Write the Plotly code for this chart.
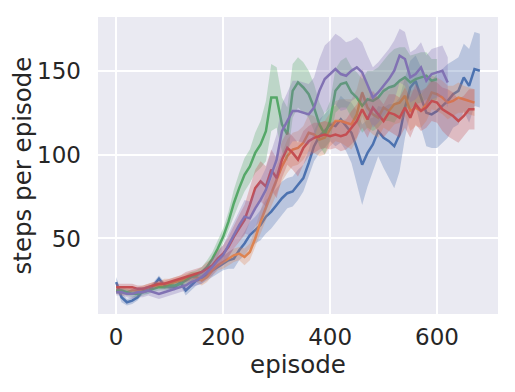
import plotly.graph_objects as go

step = 10

blue_mean = [24, 15, 12, 13, 15, 19, 19, 22, 26, 22, 21, 21, 24, 19, 22, 25, 26, 28, 31, 33,
             35, 37, 38, 43, 47, 52, 55, 58, 63, 66, 70, 74, 77, 78, 82, 86, 95, 105, 111, 114,
             118, 117, 121, 117, 113, 104, 94, 101, 106, 114, 110, 108, 105, 112, 128, 140, 144, 134, 125, 124,
             126, 129, 132, 136, 138, 146, 141, 151, 150]
blue_spread = [3, 3, 2, 2, 2, 2, 2, 2, 2, 2, 2, 2, 2, 3, 3, 3, 3, 3, 4, 4,
               4, 5, 6, 6, 7, 8, 8, 9, 10, 10, 10, 10, 9, 9, 9, 8, 8, 9, 10, 10,
               10, 12, 14, 15, 18, 22, 24, 20, 16, 15, 18, 22, 25, 22, 18, 16, 15, 18, 20, 20,
               22, 22, 22, 20, 20, 20, 22, 22, 22]

orange_mean = [19, 18, 18, 19, 19, 20, 21, 22, 22, 23, 23, 24, 25, 26, 27, 27, 25, 27, 31, 34,
               36, 38, 40, 41, 39, 42, 50, 60, 69, 77, 85, 93, 99, 103, 104, 107, 113, 112, 109, 110,
               115, 120, 120, 119, 118, 124, 137, 128, 124, 122, 128, 126, 130, 131, 135, 126, 128, 126, 130, 137,
               136, 134, 131, 132, 134, 133, 132, 131]
orange_spread = [2, 2, 2, 2, 2, 2, 2, 2, 2, 3, 3, 3, 3, 3, 3, 3, 3, 3, 3, 3,
                 4, 4, 4, 4, 5, 5, 6, 7, 8, 8, 8, 9, 10, 10, 10, 10, 11, 11, 10, 10,
                 10, 12, 13, 14, 15, 15, 14, 13, 12, 12, 12, 12, 12, 12, 12, 12, 11, 10, 10, 10,
                 10, 10, 10, 9, 9, 8, 8, 8]

green_mean = [19, 19, 18, 17, 17, 18, 19, 20, 21, 21, 22, 22, 23, 25, 27, 28, 30, 33, 38, 44,
              51, 60, 71, 80, 88, 93, 101, 106, 114, 134, 134, 118, 112, 138, 143, 140, 136, 128, 118, 112,
              120, 138, 142, 143, 137, 134, 129, 133, 132, 134, 138, 140, 141, 144, 146, 143, 145, 146, 147, 144,
              145]
green_spread = [2, 2, 2, 2, 2, 2, 2, 2, 2, 2, 2, 2, 2, 3, 3, 3, 3, 4, 4, 5,
                5, 6, 8, 9, 10, 10, 12, 14, 18, 20, 18, 16, 16, 16, 15, 15, 14, 14, 13, 12,
                12, 13, 14, 15, 15, 15, 16, 17, 18, 18, 18, 20, 22, 20, 18, 16, 15, 15, 14, 13,
                12]

red_mean = [21, 21, 21, 21, 20, 20, 21, 22, 23, 23, 24, 25, 26, 27, 28, 29, 30, 32, 34, 38,
            41, 45, 51, 56, 61, 70, 80, 84, 81, 91, 86, 97, 104, 101, 97, 104, 108, 110, 111, 112,
            111, 112, 111, 112, 116, 120, 127, 121, 128, 124, 120, 125, 124, 122, 128, 122, 130, 126, 128, 132,
            131, 127, 125, 123, 120, 123, 127, 127]
red_spread = [2, 2, 2, 2, 2, 2, 2, 2, 2, 2, 2, 2, 2, 3, 3, 3, 3, 4, 4, 5,
              5, 6, 7, 8, 9, 10, 11, 12, 12, 12, 12, 11, 10, 10, 10, 10, 9, 9, 8, 8,
              8, 8, 9, 9, 10, 10, 11, 11, 10, 10, 10, 11, 12, 12, 12, 12, 12, 12, 12, 12,
              12, 13, 14, 14, 13, 12, 12, 12]

purple_mean = [18, 18, 17, 17, 18, 18, 19, 18, 17, 18, 19, 20, 21, 22, 24, 25, 27, 30, 33, 37,
               40, 46, 52, 58, 63, 62, 68, 73, 79, 88, 97, 114, 120, 126, 126, 125, 124, 128, 138, 145,
               148, 151, 148, 147, 150, 152, 149, 141, 134, 137, 141, 145, 150, 159, 157, 146, 148, 152, 144, 148,
               149, 150, 143]
purple_spread = [2, 2, 2, 3, 3, 3, 3, 3, 3, 3, 3, 3, 3, 3, 3, 3, 4, 4, 5, 5,
                 6, 7, 8, 9, 10, 10, 11, 12, 13, 14, 15, 16, 17, 18, 18, 18, 18, 18, 19, 20,
                 20, 21, 22, 20, 18, 18, 18, 18, 18, 18, 18, 18, 18, 16, 16, 15, 15, 15, 15, 15,
                 15, 15, 15]

series = [
    ("blue", blue_mean, blue_spread, (76, 114, 176)),
    ("orange", orange_mean, orange_spread, (221, 132, 82)),
    ("green", green_mean, green_spread, (85, 168, 104)),
    ("red", red_mean, red_spread, (196, 78, 82)),
    ("purple", purple_mean, purple_spread, (129, 114, 179)),
]

fig = go.Figure()
for name, mean, spread, rgb in series:
    xs = [i * step for i in range(len(mean))]
    upper = [m + s for m, s in zip(mean, spread)]
    lower = [m - s for m, s in zip(mean, spread)]
    fig.add_trace(go.Scatter(
        x=xs + xs[::-1], y=upper + lower[::-1], fill="toself",
        fillcolor="rgba(%d,%d,%d,0.3)" % rgb, line=dict(width=0),
        mode="lines", hoverinfo="skip", showlegend=False))
    fig.add_trace(go.Scatter(
        x=xs, y=mean, mode="lines", name=name,
        line=dict(color="rgb(%d,%d,%d)" % rgb, width=2.5), showlegend=False))

font_color = "#262626"
# page body adds an 8px offset, so the figure is sized 507x384
fig.update_layout(
    width=507, height=384,
    margin=dict(l=90, r=17, t=9, b=78),
    paper_bgcolor="white", plot_bgcolor="#EAEAF2",
    font=dict(family="DejaVu Sans", color=font_color, size=23),
    showlegend=False,
)
fig.update_xaxes(
    range=[-34, 714], tickvals=[0, 200, 400, 600], showgrid=True,
    gridcolor="white", gridwidth=1.5, zeroline=False, showline=False,
    automargin=False,
    ticks="", ticklabelstandoff=7, tickfont=dict(size=23, color=font_color),
    title=dict(text="episode", font=dict(size=24.5, color=font_color), standoff=0),
)
fig.update_yaxes(
    range=[5, 182], tickvals=[50, 100, 150], showgrid=True,
    gridcolor="white", gridwidth=1.5, zeroline=False, showline=False,
    automargin=False,
    ticks="", ticklabelstandoff=16, tickfont=dict(size=23, color=font_color),
    title=dict(text="steps per episode", font=dict(size=24.5, color=font_color), standoff=6),
)

fig.write_html("out.html")
